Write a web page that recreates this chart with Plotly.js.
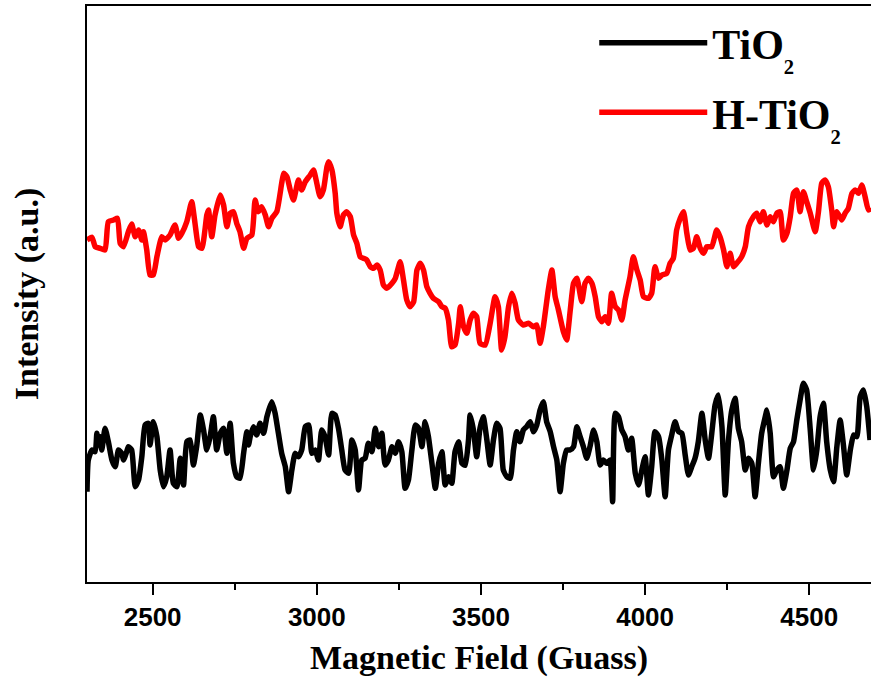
<!DOCTYPE html>
<html>
<head>
<meta charset="utf-8">
<script src="https://cdn.plot.ly/plotly-3.0.1.min.js"></script>
<style>html,body{margin:0;padding:0;background:#fff;}#chart{width:871px;height:683px;}</style>
</head>
<body>
<div id="chart"></div>
<script>
// Magnetic field (Gauss) and EPR intensity (a.u.)
var seriesNames = ["TiO<sub><sub>2</sub></sub>", "H-TiO<sub><sub>2</sub></sub>"];
var xTickVals = [2500, 3000, 3500, 4000, 4500];

var fieldTiO2 = [2300,2304,2315,2325,2330,2335,2340,2345,2355,2365,2376,2386,2396,2406,2411,2421,2426,2436,2447,2457,
  2467,2477,2487,2492,2502,2513,2523,2533,2543,2553,2563,2574,2584,2594,2604,2614,2624,2634,2645,2655,
  2665,2675,2685,2695,2706,2716,2726,2736,2746,2756,2766,2777,2787,2792,2797,2807,2817,2827,2838,2848,
  2863,2873,2883,2893,2904,2914,2924,2934,2944,2954,2965,2975,2985,2995,3005,3015,3025,3036,3046,3056,
  3066,3076,3086,3097,3107,3117,3127,3137,3147,3157,3168,3178,3188,3198,3208,3218,3229,3239,3249,3259,
  3269,3279,3289,3300,3310,3320,3330,3340,3350,3361,3371,3381,3391,3401,3411,3421,3432,3442,3452,3462,
  3467,3477,3487,3497,3507,3518,3528,3538,3548,3558,3568,3579,3589,3599,3609,3619,3629,3639,3650,3660,
  3670,3680,3690,3700,3711,3721,3731,3741,3751,3761,3771,3782,3792,3802,3812,3822,3832,3843,3853,3863,
  3873,3883,3893,3901,3909,3919,3929,3939,3949,3959,3970,3980,3990,4000,4010,4020,4030,4041,4051,4061,
  4071,4081,4091,4102,4112,4122,4132,4142,4152,4162,4173,4183,4193,4203,4213,4223,4234,4244,4254,4264,
  4274,4284,4294,4305,4315,4325,4335,4345,4355,4366,4371,4381,4391,4401,4411,4421,4432,4442,4452,4462,
  4472,4482,4492,4503,4513,4523,4533,4543,4553,4564,4574,4584,4594,4604,4614,4625,4635,4645,4655,4665,
  4675,4685];
var intensityTiO2 = [90.3,122,132,130.3,148.7,137,145.3,132,153.7,140.3,122,115.3,132,128.7,122,130.3,135.3,132,95.3,102,
  125.3,157,158.7,137,160.3,145.3,112,95.3,105.3,132,98.7,95.3,123.7,97,140.3,142,117,135.3,167,152,
  132,145.3,165.3,132,148.7,153.7,128.7,158.7,118.7,105.3,103.7,128.7,150.3,137,145.3,155.3,147,158.7,148.7,165.3,
  180.3,168.7,148.7,128.7,115.3,90.3,112,128.7,125.3,132,155.3,157,128.7,132,122,152,145.3,127,168.7,167,
  153.7,132,112,108.7,142,132,92,122,123.7,138.7,130.3,153.7,135.3,148.7,117,122,135.3,128.7,140.3,130.3,
  93.7,102,130.3,157,153.7,135.3,160.3,145.3,120.3,93.7,118.7,130.3,97,105.3,98.7,130.3,140.3,118.7,116.7,142,
  167,152,125.3,153.7,165.3,142,117,142,158.7,153.7,112,105.3,103.7,132,150.3,140.3,152,155.3,160.3,150.3,
  157,172,180.3,160.3,150.3,135.3,122,90.3,118.7,132,132,135.3,155.3,145.3,135.3,123.7,135.3,152,140.3,117,
  122,118.7,122,80.3,168.7,165.3,152,145.3,132,143.7,108.7,97,112,125.3,87,115.3,150.3,145.3,122,85.3,
  132,147,160.3,150.3,148.7,127,107,115.3,123.7,140.3,168.7,142,123.7,148.7,177,187,155.3,87,142,172,
  183.7,153.7,140.3,112,123.7,118.7,85.3,118.7,148.7,165.3,172,148.7,105.3,112,115.3,93.7,112,133.7,140.3,162,
  182,198.7,192,152,112,132,165.3,178.7,140.3,112,100.3,135.3,162,137,107,132,147,145.3,185.3,192,
  175.3,142];

var fieldHTiO2 = [2300,2315,2325,2340,2355,2365,2381,2393,2401,2411,2426,2436,2447,2457,2467,2472,2482,2492,2502,2513,
  2528,2538,2553,2568,2579,2589,2604,2619,2629,2640,2650,2665,2670,2680,2690,2706,2716,2726,2736,2746,
  2756,2766,2777,2787,2802,2812,2822,2832,2843,2853,2863,2878,2893,2899,2909,2919,2929,2944,2954,2965,
  2980,2990,3000,3010,3020,3031,3036,3046,3056,3061,3071,3081,3091,3102,3112,3122,3132,3142,3152,3163,
  3173,3183,3193,3203,3213,3229,3239,3254,3264,3274,3284,3295,3305,3315,3325,3335,3345,3355,3371,3381,
  3391,3401,3411,3421,3432,3437,3447,3457,3467,3477,
  3487,3497,3513,3528,3543,3553,3563,3573,3584,3594,3604,3614,3629,3645,3660,3670,3680,3690,3705,3716,
  3726,3736,3751,3761,3772,3782,3792,3807,3817,3827,3838,3848,3858,3868,3878,3888,3898,3909,3919,3929,
  3939,3954,3964,3975,3985,3995,4010,4020,4030,4041,4051,4066,4076,4086,4096,4107,4117,4127,4137,4147,
  4157,4168,4178,4188,4203,4218,4228,4239,4249,4259,4269,4279,4294,4305,4315,4330,4340,4350,4360,4371,
  4381,4391,4401,4411,4421,4432,4442,4452,4462,4472,4482,4492,4503,4518,4528,4538,4548,4558,4569,4574,
  4584,4599,4609,4619,4630,4640,4650,4660,4670,4680,4688];
var intensityHTiO2 = [342,344.7,335.3,333.7,332,360.3,362,363.7,338.7,335.3,350.3,358,345.3,352,342,350.3,332,307,307,325.3,
  345.3,342,347,357,343.7,348.7,360.3,380.3,358.7,335.3,333.7,367,372,345.3,367,387,377,355.3,368.7,370.3,
  358.7,350.3,333.7,343.7,347,382,370.3,375.3,367,355.3,363.7,370.3,398.7,408.7,405.3,392,382,402,392,400.3,
  407,412,398.7,385.3,392,415.3,420.3,412,388.7,368.7,355.3,367,370.3,365.3,347,338.7,325.3,323.7,322,315.3,
  313.7,317,312,297,293.7,298.7,303.7,320.3,302,282,275.3,280.3,312,318.7,312,295.3,288.7,283.7,280.3,275.3,
  273.7,262,235.3,237,258.7,275.3,255.3,248.7,262,268.7,
  265.3,238.7,237,258.7,285.3,275.3,232,245.3,275.3,288.7,278.7,262,257,258.7,255.3,257,238.7,255.3,292,312,
  285.3,272,250.3,242,272,298.7,303.7,280.3,298.7,303.7,298.7,285.3,265.3,260.3,265.3,258.7,288.7,275.3,272,262,
  282,305.3,325.3,312,302,285.3,283.7,288.7,315.3,303.7,307,308.7,318.7,323.7,352,363.7,370.3,348.7,332,333.7,
  345.3,333.7,328.7,335.3,335.3,352,345.3,332,315.3,328.7,315.3,318.7,325.3,335.3,355.3,365.3,368.7,360.3,370.3,357,
  365.3,360.3,368.7,370.3,342,348.7,365.3,388.7,392,370.3,390.3,380.3,368.7,350.3,370.3,398.7,402,395.3,370.3,355.3,
  370.3,362,368.7,373.7,388.7,392,388.7,397,385.3,372,373.7];

var serif = "'Liberation Serif', 'Times New Roman', serif";
var sans = "'Liberation Sans', Arial, sans-serif";

var traces = [
  {x: fieldTiO2, y: intensityTiO2, name: seriesNames[0], legendgroup: 'g1', type: 'scatter', mode: 'lines',
   line: {color: '#000000', width: 5.5, shape: 'spline', smoothing: 0.5}},
  {x: fieldHTiO2, y: intensityHTiO2, name: seriesNames[1], legendgroup: 'g2', type: 'scatter', mode: 'lines',
   line: {color: '#ff0000', width: 5.5, shape: 'spline', smoothing: 0.5}}
];

var layout = {
  width: 871, height: 683,
  margin: {l: 87, r: 0, t: 6, b: 101},
  paper_bgcolor: '#ffffff', plot_bgcolor: '#ffffff',
  showlegend: true,
  legend: {x: 0.647, y: 0.995, xanchor: 'left', yanchor: 'top', bgcolor: 'rgba(0,0,0,0)',
           borderwidth: 0, itemwidth: 108, tracegroupgap: 12,
           font: {family: serif, size: 42, color: '#000', weight: 'bold'}},
  xaxis: {
    range: [2300, 4688], tickvals: xTickVals, ticktext: xTickVals.map(String),
    showline: true, linecolor: '#000', linewidth: 2, mirror: true,
    ticks: 'outside', ticklen: 11, tickwidth: 2, tickcolor: '#000',
    minor: {tickvals: [2750, 3250, 3750, 4250], ticks: 'outside', ticklen: 6, tickwidth: 2, tickcolor: '#000'},
    showgrid: false, zeroline: false,
    tickfont: {family: sans, size: 26, color: '#000', weight: 'bold'},
    title: {text: 'Magnetic Field (Guass)', standoff: 14,
            font: {family: serif, size: 34, color: '#000', weight: 'bold'}}
  },
  yaxis: {
    range: [0, 576], showline: true, linecolor: '#000', linewidth: 2, mirror: false,
    ticks: '', showticklabels: false, showgrid: false, zeroline: false,
    title: {text: 'Intensity (a.u.)', standoff: 36,
            font: {family: serif, size: 34, color: '#000', weight: 'bold'}}
  }
};

Plotly.newPlot('chart', traces, layout, {displayModeBar: false, staticPlot: true});
</script>
</body>
</html>
